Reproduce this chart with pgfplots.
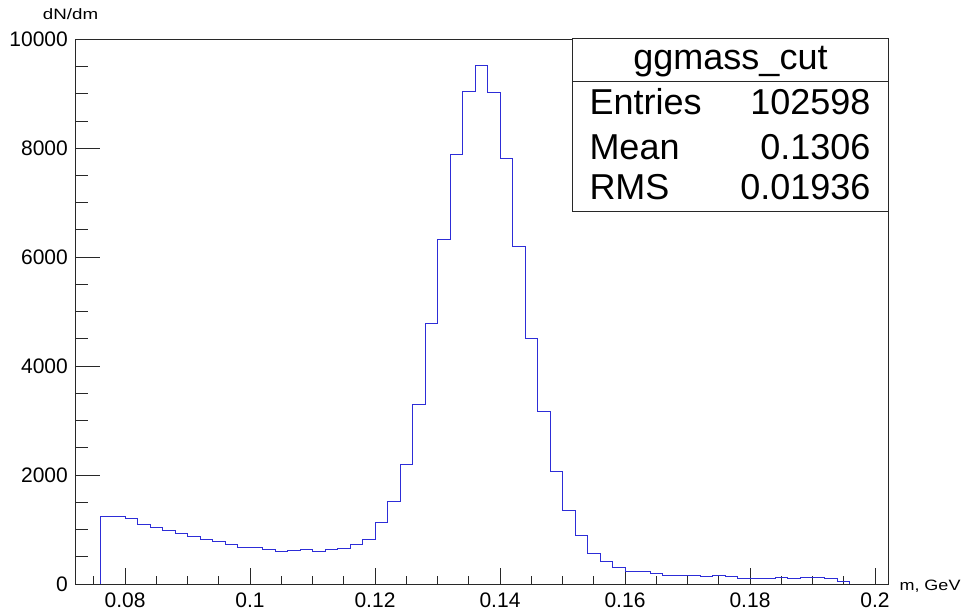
\documentclass[border=0pt]{standalone}
\usepackage{fontspec}
\setmainfont{Liberation Sans}
\usepackage{graphicx}
\usepackage{pgfplots}
\pgfplotsset{compat=1.18}
\definecolor{histblue}{RGB}{45,45,215}
\definecolor{framecol}{RGB}{40,40,40}
\begin{document}
\begin{tikzpicture}[x=1pt,y=1pt]
\useasboundingbox (0,0) rectangle (961,614);
\begin{axis}[
  at={(75.7pt,30pt)}, anchor=south west,
  scale only axis, width=812.6pt, height=544.7pt,
  xmin=0.07211, xmax=0.20213, ymin=0, ymax=10000,
  scaled ticks=false,
  xtick={0.08,0.1,0.12,0.14,0.16,0.18,0.2},
  xticklabels={0.08,0.1,0.12,0.14,0.16,0.18,0.2},
  ytick={0,2000,4000,6000,8000,10000},
  yticklabels={0,2000,4000,6000,8000,10000},
  minor xtick={0.075,0.085,0.09,0.095,0.105,0.11,0.115,0.125,0.13,0.135,0.145,0.15,0.155,0.165,0.17,0.175,0.185,0.19,0.195},
  minor ytick={500,1000,1500,2500,3000,3500,4500,5000,5500,6500,7000,7500,8500,9000,9500},
  xtick pos=bottom, ytick pos=left,
  tick align=inside,
  xtick style={/pgfplots/major tick length=16pt,/pgfplots/minor tick length=8pt},
  ytick style={/pgfplots/major tick length=24pt,/pgfplots/minor tick length=12pt},
  every tick/.style={framecol, line width=0.9pt},
  axis line style={framecol, line width=0.9pt},
  ticklabel style={font=\fontsize{21}{21}\selectfont, inner sep=0pt},
  xticklabel style={anchor=north, yshift=-9pt},
  yticklabel style={anchor=east, xshift=-7.7pt},
]
\addplot[const plot, draw=histblue, line width=1pt, mark=none] coordinates {
(0.076,0) (0.076,1237) (0.078,1237) (0.080,1195) (0.082,1084) (0.084,1035)
(0.086,980) (0.088,925) (0.090,864) (0.092,809) (0.094,778)
(0.096,717) (0.098,662) (0.100,674) (0.102,637) (0.104,601)
(0.106,619) (0.108,637) (0.110,601) (0.112,625) (0.114,649)
(0.116,723) (0.118,821) (0.120,1134) (0.122,1507) (0.124,2193)
(0.126,3303) (0.128,4779) (0.130,6328) (0.132,7885) (0.134,9038)
(0.136,9526) (0.138,9019) (0.140,7806) (0.142,6200) (0.144,4516)
(0.146,3161) (0.148,2064) (0.150,1354) (0.152,895) (0.154,551)
(0.156,410) (0.158,300) (0.160,233) (0.162,221) (0.164,196)
(0.166,165) (0.168,165) (0.170,147) (0.172,141) (0.174,159)
(0.176,129) (0.178,110) (0.180,104) (0.182,98) (0.184,117)
(0.186,104) (0.188,117) (0.190,117) (0.192,104) (0.194,43)
(0.196,0)
};
\end{axis}
% statistics box
\draw[framecol, line width=0.9pt, fill=white] (572.3,403) rectangle (888.3,575.7);
\draw[framecol, line width=0.9pt] (572.3,533) -- (888.3,533);
\begin{scope}[every node/.style={inner sep=0pt, font=\fontsize{36}{36}\selectfont}]
\node[anchor=base] at (730.5,544) {ggmass\_cut};
\node[anchor=base west] at (589.3,499) {Entries};
\node[anchor=base east] at (870.7,499) {102598};
\node[anchor=base west] at (589.3,454.7) {Mean};
\node[anchor=base east] at (870.7,454.7) {0.1306};
\node[anchor=base west] at (589.3,414) {RMS};
\node[anchor=base east] at (870.7,414) {0.01936};
\end{scope}
% axis titles
\node[anchor=base west, inner sep=0pt, font=\fontsize{15}{15}\selectfont] at (42.7,594.7) {\scalebox{1.25}[1]{dN/dm}};
\node[anchor=base west, inner sep=0pt, font=\fontsize{15}{15}\selectfont] at (899.3,24) {\scalebox{1.2}[1]{m, GeV}};
\end{tikzpicture}
\end{document}
